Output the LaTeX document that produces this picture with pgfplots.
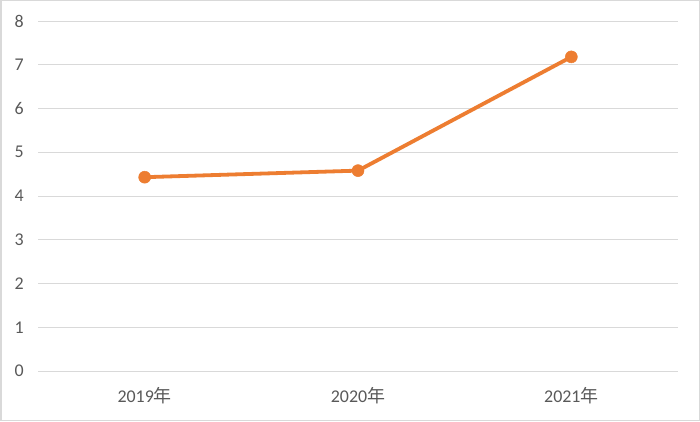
\documentclass[border=0pt]{standalone}
\usepackage{pgfplots}
\pgfplotsset{compat=1.18}
\usepackage{fontspec}
\setmainfont{Carlito}
\newfontfamily\cjk{Noto Sans CJK SC}
\definecolor{gridc}{HTML}{D9D9D9}
\definecolor{lab}{HTML}{595959}
\definecolor{ora}{HTML}{ED7D31}
\begin{document}
\begin{tikzpicture}[x=1bp,y=1bp]
\draw[gridc, line width=1.5bp, fill=white] (0.75,0.75) rectangle (699.25,420.25);
\begin{axis}[
  at={(38bp,50bp)}, anchor=south west,
  scale only axis, width=640bp, height=350bp,
  xmin=-0.5, xmax=2.5, ymin=0, ymax=8,
  ytick={0,1,2,3,4,5,6,7,8},
  xtick={0,1,2},
  xticklabels={2019{\cjk 年},2020{\cjk 年},2021{\cjk 年}},
  axis line style={draw=none},
  major tick style={draw=none},
  ymajorgrids,
  grid style={gridc, line width=1bp},
  /pgf/number format/assume math mode=true,
  yticklabel style={font=\fontsize{18}{18}\selectfont, text=lab, anchor=east, inner sep=0pt, xshift=-14bp},
  xticklabel style={font=\fontsize{18}{18}\selectfont, text=lab, anchor=north, inner sep=0pt, yshift=-16bp},
  clip=false,
]
\addplot[ora, line width=3.8bp, mark=*, mark size=6bp, mark options={fill=ora, draw=ora, line width=0.5bp}] coordinates {(0,4.43) (1,4.58) (2,7.18)};
\end{axis}
\end{tikzpicture}
\end{document}
